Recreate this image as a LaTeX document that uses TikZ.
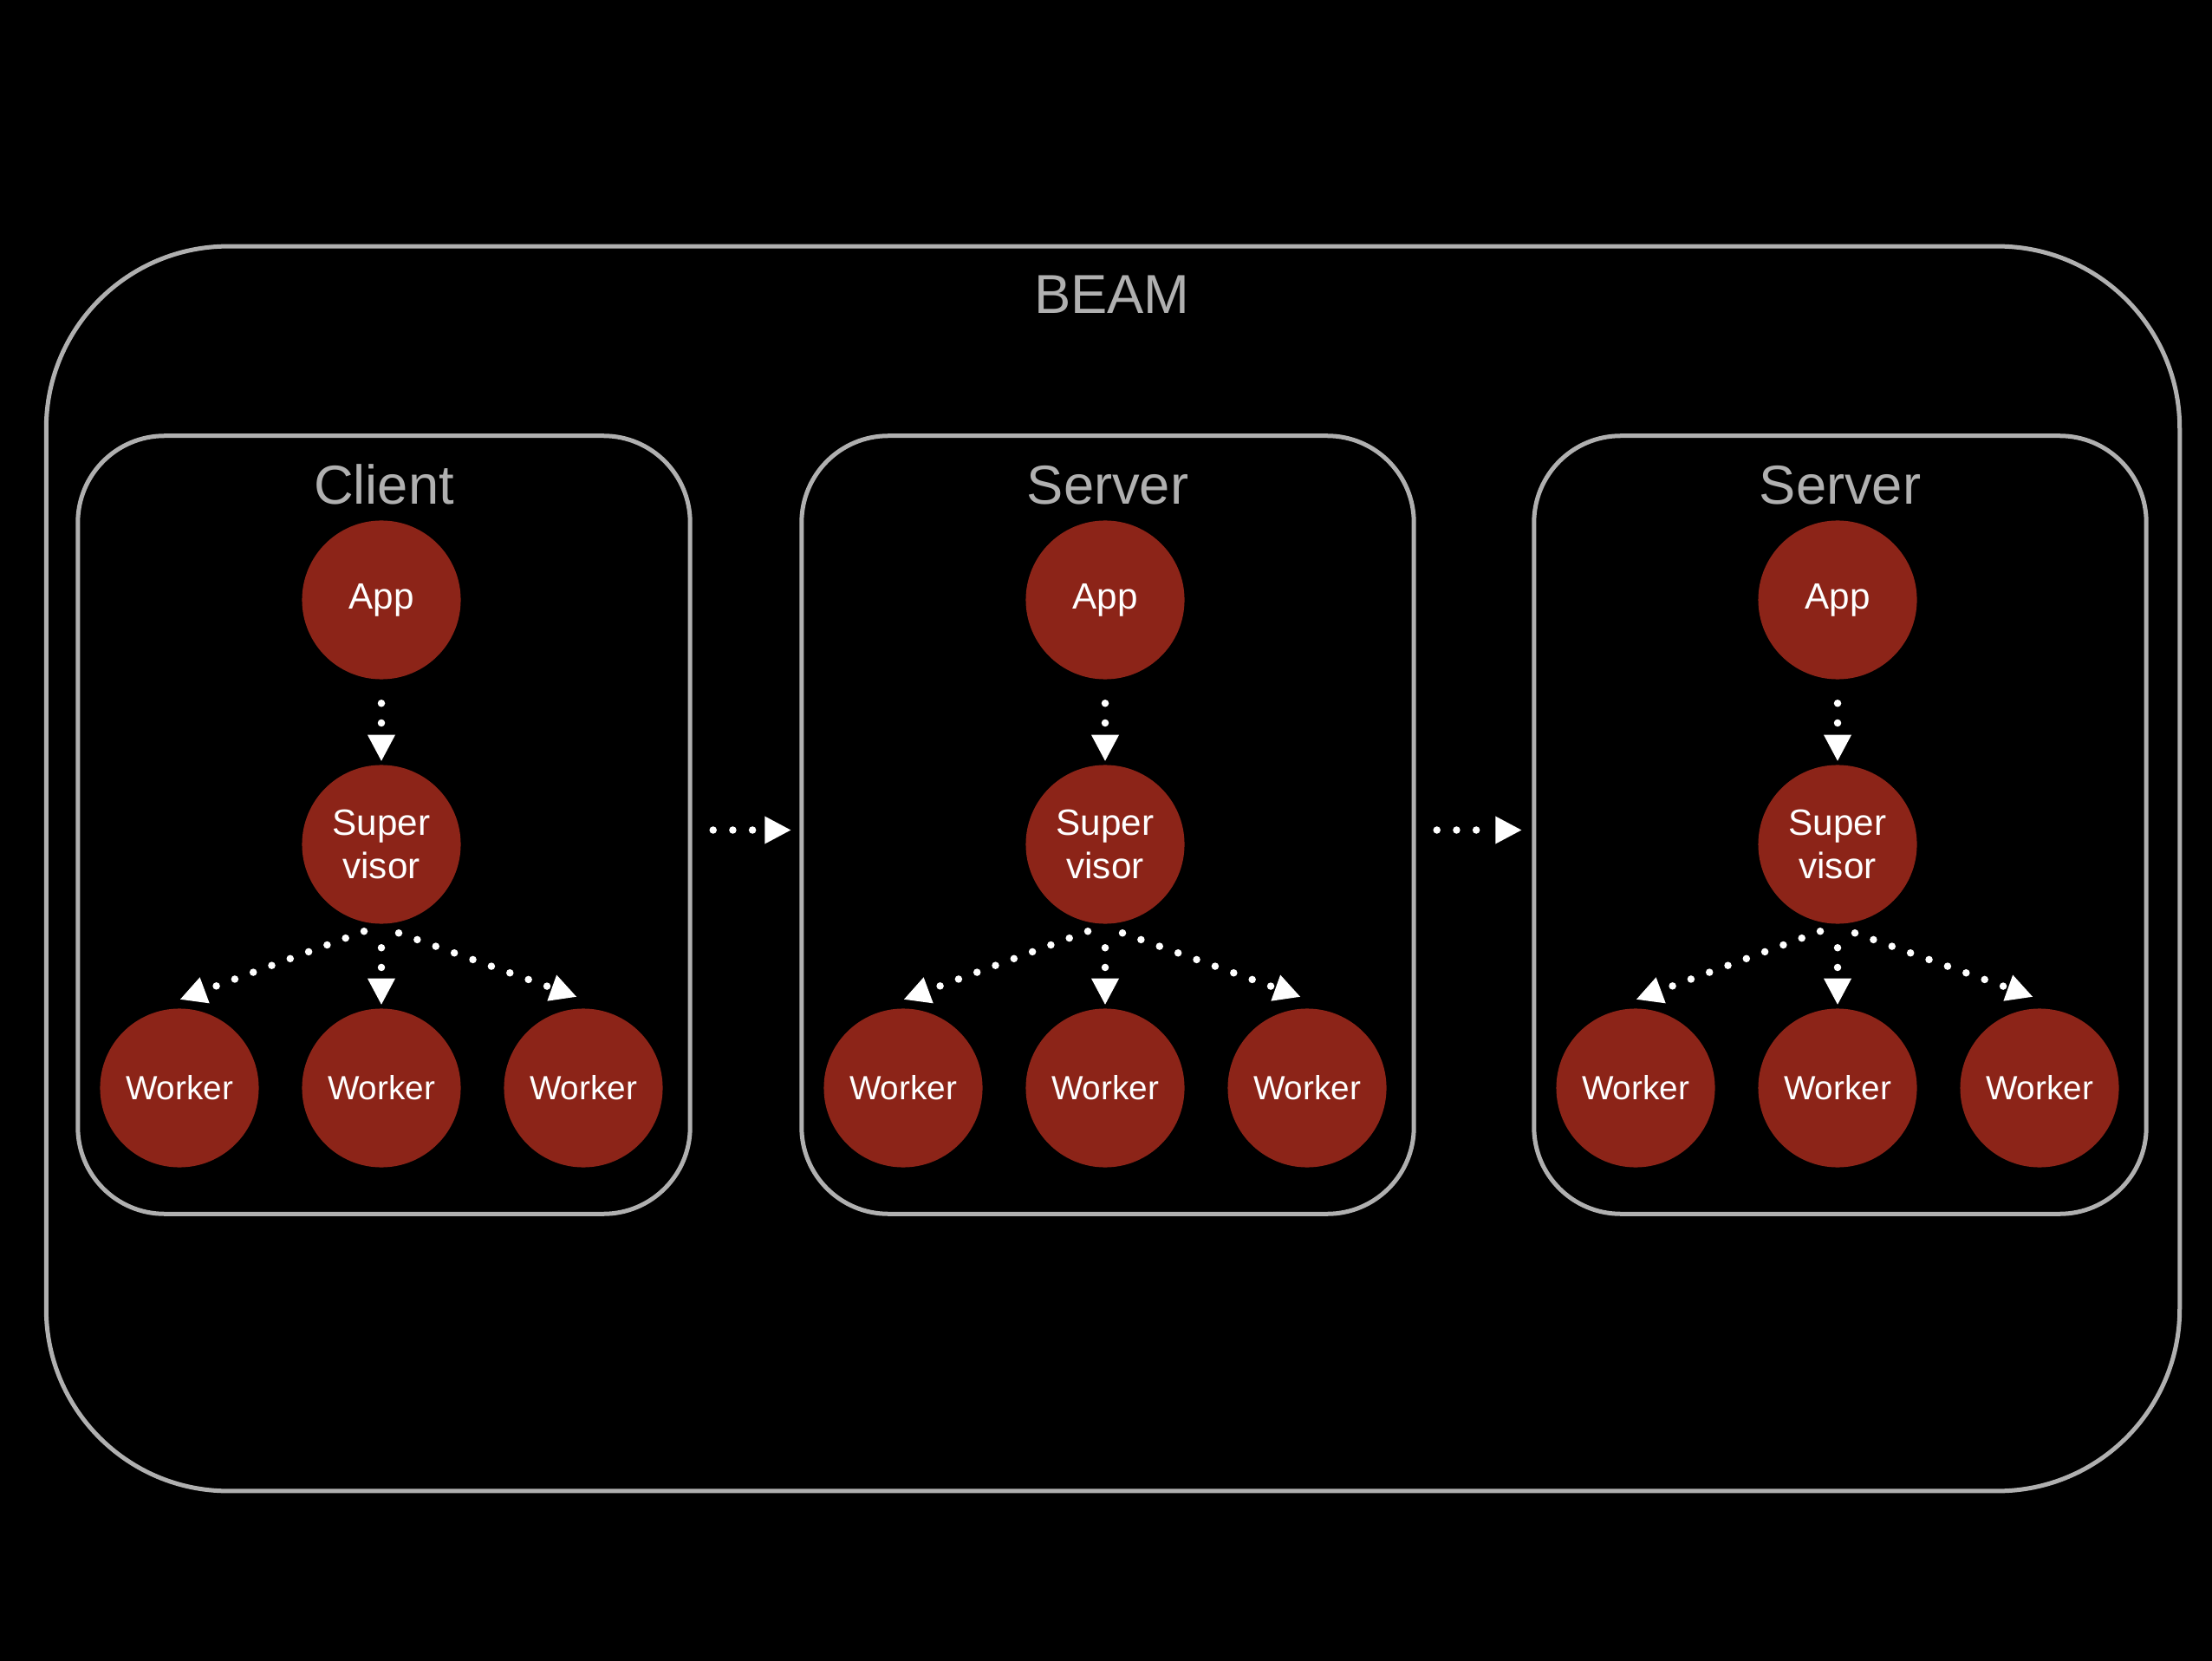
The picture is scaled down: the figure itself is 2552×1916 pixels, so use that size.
\documentclass[tikz,border=0pt]{standalone}
\usepackage{fontspec}
\setmainfont{Liberation Sans}
\usetikzlibrary{arrows.meta}
\definecolor{boxgray}{RGB}{176,176,176}
\definecolor{nodered}{RGB}{140,36,24}
\begin{document}
\begin{tikzpicture}[x=0.01cm,y=-0.01cm,
  chalk/.style={draw=boxgray, line width=0.05cm, inner sep=0pt},
  proc/.style={circle, fill=nodered, minimum size=1.83cm, inner sep=0pt, text=white,
    align=center, font=\fontsize{12}{14.2}\selectfont},
  worker/.style={proc, font=\fontsize{11}{13}\selectfont},
  title/.style={text=boxgray, font=\fontsize{18}{20}\selectfont, anchor=base, inner sep=0pt},
  flow/.style={white, line width=0.085cm, line cap=round, dash pattern=on 0pt off 0.227cm,
    -{Triangle[length=0.30cm,width=0.32cm,line width=0pt]}}
]
\fill[black] (0,0) rectangle (2552,1916);
\useasboundingbox (0,0) rectangle (2552,1916);

\node[chalk, rounded corners=2.1cm, minimum width=24.6cm, minimum height=14.35cm] (beam) at (1284,1002) {};
\node[title] (beamlabel) at (1283,362) {BEAM};

\foreach \c/\x/\t in {c/440/Client, s/1275/Server, t/2120/Server}{
  \node[chalk, rounded corners=1cm, minimum width=7.06cm, minimum height=8.97cm] (\c box) at (\x+3,951.5) {};
  \node[title] (\c title) at (\x+3,582) {\t};
  \node[proc] (\c app) at (\x,692) {App};
  \node[proc] (\c sup) at (\x,974) {Super\\visor};
  \node[worker] (\c w1) at (\x-233,1255) {Worker};
  \node[worker] (\c w2) at (\x,1255) {Worker};
  \node[worker] (\c w3) at (\x+233,1255) {Worker};
  \draw[flow] ([shift={(0,27)}]\c app.south) -- ([shift={(0,-4)}]\c sup.north);
  \draw[flow] ([shift={(0,27)}]\c sup.south) -- ([shift={(0,-4)}]\c w2.north);
  \draw[flow] ([shift={(-20,8)}]\c sup.south) -- ([shift={(1,-10)}]\c w1.north);
  \draw[flow] ([shift={(20,10)}]\c sup.south) -- ([shift={(-8,-13)}]\c w3.north);
}
\draw[flow] ([shift={(24,6)}]cbox.east) -- ([shift={(-10,6)}]sbox.west);
\draw[flow] ([shift={(24,6)}]sbox.east) -- ([shift={(-12,6)}]tbox.west);
\end{tikzpicture}
\end{document}
